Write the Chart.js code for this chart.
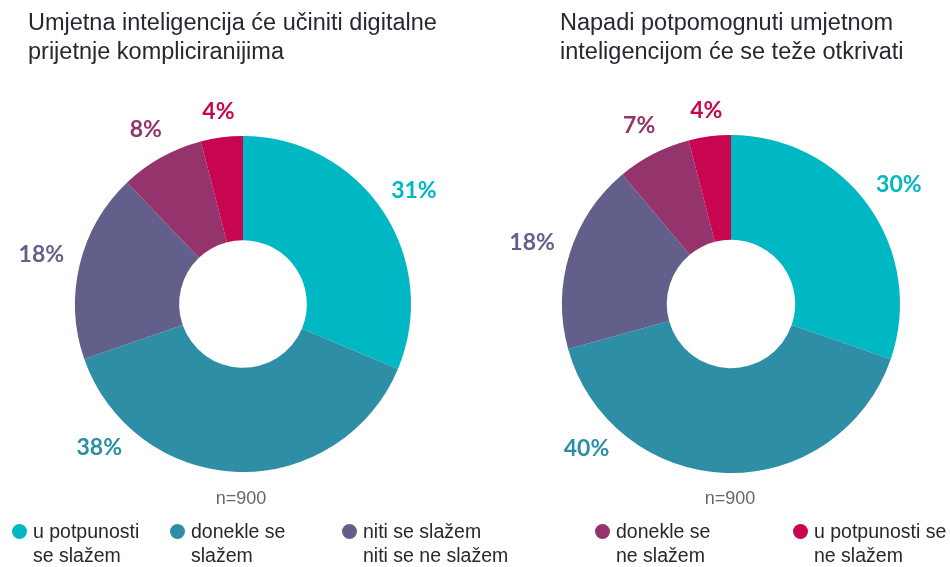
<!DOCTYPE html>
<html>
<head>
<meta charset="utf-8">
<script src="https://cdn.jsdelivr.net/npm/chart.js"></script>
<style>
  body { margin: 0; background: #fff; font-family: "Liberation Sans", Arial, sans-serif; }
  #wrap { position: relative; width: 950px; height: 567px; overflow: hidden; }
  canvas { position: absolute; top: 0; }
  .title { position: absolute; top: 8px; font-size: 23.5px; line-height: 29px; color: #2b2530; }
  .note { position: absolute; top: 488px; width: 120px; text-align: center; font-size: 18px; color: #666; }
  .leg { position: absolute; top: 519px; font-size: 19.5px; line-height: 24px; color: #2b2530; white-space: pre; }
  .leg i { position: absolute; left: -21px; top: 5px; width: 15px; height: 15px; border-radius: 50%; }
</style>
</head>
<body>
<div id="wrap">
  <canvas id="left" width="475" height="567" style="left:0"></canvas>
  <canvas id="right" width="475" height="567" style="left:475px"></canvas>
  <div class="title" id="t1" style="left:28px"></div>
  <div class="title" id="t2" style="left:560px"></div>
  <div class="note" id="n1" style="left:181px"></div>
  <div class="note" id="n2" style="left:670px"></div>
  <div id="legend"></div>
</div>
<script>
// podaci
const categories = [
  "u potpunosti\nse slažem",
  "donekle se\nslažem",
  "niti se slažem\nniti se ne slažem",
  "donekle se\nne slažem",
  "u potpunosti se\nne slažem"
];
const complicatedThreats = [31, 38, 18, 8, 4];
const harderToDetect = [30, 40, 18, 7, 4];
const chartTitles = [
  "Umjetna inteligencija će učiniti digitalne<br>prijetnje kompliciranijima",
  "Napadi potpomognuti umjetnom<br>inteligencijom će se teže otkrivati"
];
const sampleNote = "n=900";

const colors = ["#00b7c4", "#2e8ea6", "#625f8a", "#95346c", "#c8064f"];
const legendLeft = [33, 191, 363, 616, 814];

document.getElementById("t1").innerHTML = chartTitles[0];
document.getElementById("t2").innerHTML = chartTitles[1];
document.getElementById("n1").textContent = sampleNote;
document.getElementById("n2").textContent = sampleNote;

// legenda ispod grafikona
const legend = document.getElementById("legend");
categories.forEach((c, i) => {
  const d = document.createElement("div");
  d.className = "leg";
  d.style.left = legendLeft[i] + "px";
  d.textContent = c;
  const dot = document.createElement("i");
  dot.style.background = colors[i];
  d.prepend(dot);
  legend.appendChild(d);
});

// postotci izvan prstena
const outerLabels = {
  id: "outerLabels",
  afterDatasetsDraw(chart) {
    const ctx = chart.ctx;
    const meta = chart.getDatasetMeta(0);
    const values = chart.data.datasets[0].data;
    ctx.save();
    ctx.font = "bold 23px Lato";
    ctx.textAlign = "center";
    ctx.textBaseline = "middle";
    meta.data.forEach((arc, i) => {
      const p = arc.getProps(["x", "y", "startAngle", "endAngle", "outerRadius"], true);
      let a = (p.startAngle + p.endAngle) / 2;
      // label na dnu bi se preklopio s n=900, pomakni ga dolje lijevo
      if (a > Math.PI / 4 && a < 3 * Math.PI / 4) a = 0.75 * Math.PI;
      const r = p.outerRadius + 24 + Math.abs(Math.cos(a)) * 16;
      ctx.fillStyle = colors[i];
      ctx.fillText(values[i] + "%", p.x + Math.cos(a) * r, p.y + Math.sin(a) * r);
    });
    ctx.restore();
  }
};

const makeChart = (id, data, padding) => {
  new Chart(document.getElementById(id), {
    type: "doughnut",
    data: {
      labels: categories,
      datasets: [{
        data: data,
        backgroundColor: colors,
        borderWidth: 0
      }]
    },
    options: {
      responsive: false,
      animation: false,
      cutout: "38%",
      layout: { padding: padding },
      plugins: {
        legend: { display: false },
        tooltip: { enabled: false }
      }
    },
    plugins: [outerLabels]
  });
};

makeChart("left", complicatedThreats, { left: 75, right: 64, top: 136, bottom: 95 });
makeChart("right", harderToDetect, { left: 87, right: 50, top: 135, bottom: 94 });
</script>
</body>
</html>
